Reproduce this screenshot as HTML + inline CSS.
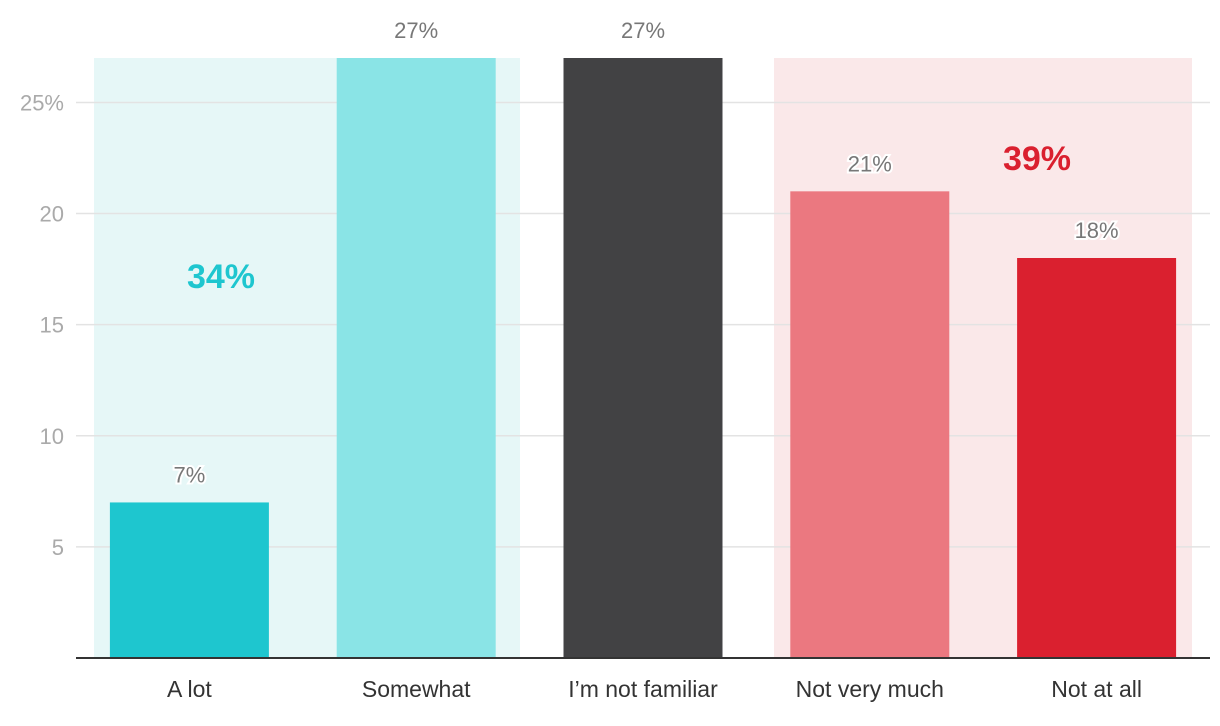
<!DOCTYPE html>
<html><head><meta charset="utf-8"><style>
body{margin:0;background:#fff;}
svg{display:block;font-family:"Liberation Sans",sans-serif;}
</style></head><body>
<svg id="chart" width="1220" height="726"></svg>
<script>
const categories=["A lot","Somewhat","I\u2019m not familiar","Not very much","Not at all"];
const values=[7,27,27,21,18];
const valueLabels=["7%","27%","27%","21%","18%"];
const barColors=["#1ec6cf","#8ae4e6","#424244","#eb7880","#da202f"];
const yTicks=[5,10,15,20,25];
const yTickLabels=["5","10","15","20","25%"];
const groupTotals=["34%","39%"];
const NS="http://www.w3.org/2000/svg";
const svg=document.getElementById("chart");
const x0=76,x1=1210,yBase=658,yTopVal=27,yTopPx=58;
const band=(x1-x0)/categories.length, barW=159;
function y(v){return yBase-(v/yTopVal)*(yBase-yTopPx);}
function xc(i){return x0+band*(i+0.5);}
function mk(t,a,p){const e=document.createElementNS(NS,t);for(const k in a)e.setAttribute(k,a[k]);(p||svg).appendChild(e);return e;}
// group shading
const g1=mk("rect",{x:94,y:y(27),width:520-94,height:yBase-y(27),fill:"#e6f7f7"});


const g2=mk("rect",{x:774,y:y(27),width:1192-774,height:yBase-y(27),fill:"#fae8e9"});


// grid + ticks
yTicks.forEach((t,i)=>{
 const l=mk("line",{x1:x0,x2:x1,y1:y(t),y2:y(t),stroke:"#e3e3e3","stroke-width":1.5});
 
 
 const tx=mk("text",{x:64,y:y(t)+8,"text-anchor":"end","font-size":22,fill:"#aaa"});
 tx.textContent=yTickLabels[i];
 
 
});
// bars
values.forEach((v,i)=>{
 const r=mk("rect",{x:xc(i)-barW/2,y:y(v),width:barW,height:yBase-y(v),fill:barColors[i]});
 
 
 const t=mk("text",{x:xc(i),y:y(v)-20,"text-anchor":"middle","font-size":22,fill:"#777",stroke:"#fff","stroke-width":4,"paint-order":"stroke"});
 t.textContent=valueLabels[i];
 
 
 const c=mk("text",{x:xc(i),y:697,"text-anchor":"middle","font-size":23,fill:"#333"});
 c.textContent=categories[i];
 
 
});
const ax=mk("line",{x1:x0,x2:x1,y1:yBase,y2:yBase,stroke:"#333","stroke-width":2});


const s1=mk("text",{x:221,y:288,"text-anchor":"middle","font-size":34,"font-weight":"bold",fill:"#1ec6cf"});
s1.textContent=groupTotals[0];


const s2=mk("text",{x:1037,y:170,"text-anchor":"middle","font-size":34,"font-weight":"bold",fill:"#da202f"});
s2.textContent=groupTotals[1];


</script>
</body></html>
